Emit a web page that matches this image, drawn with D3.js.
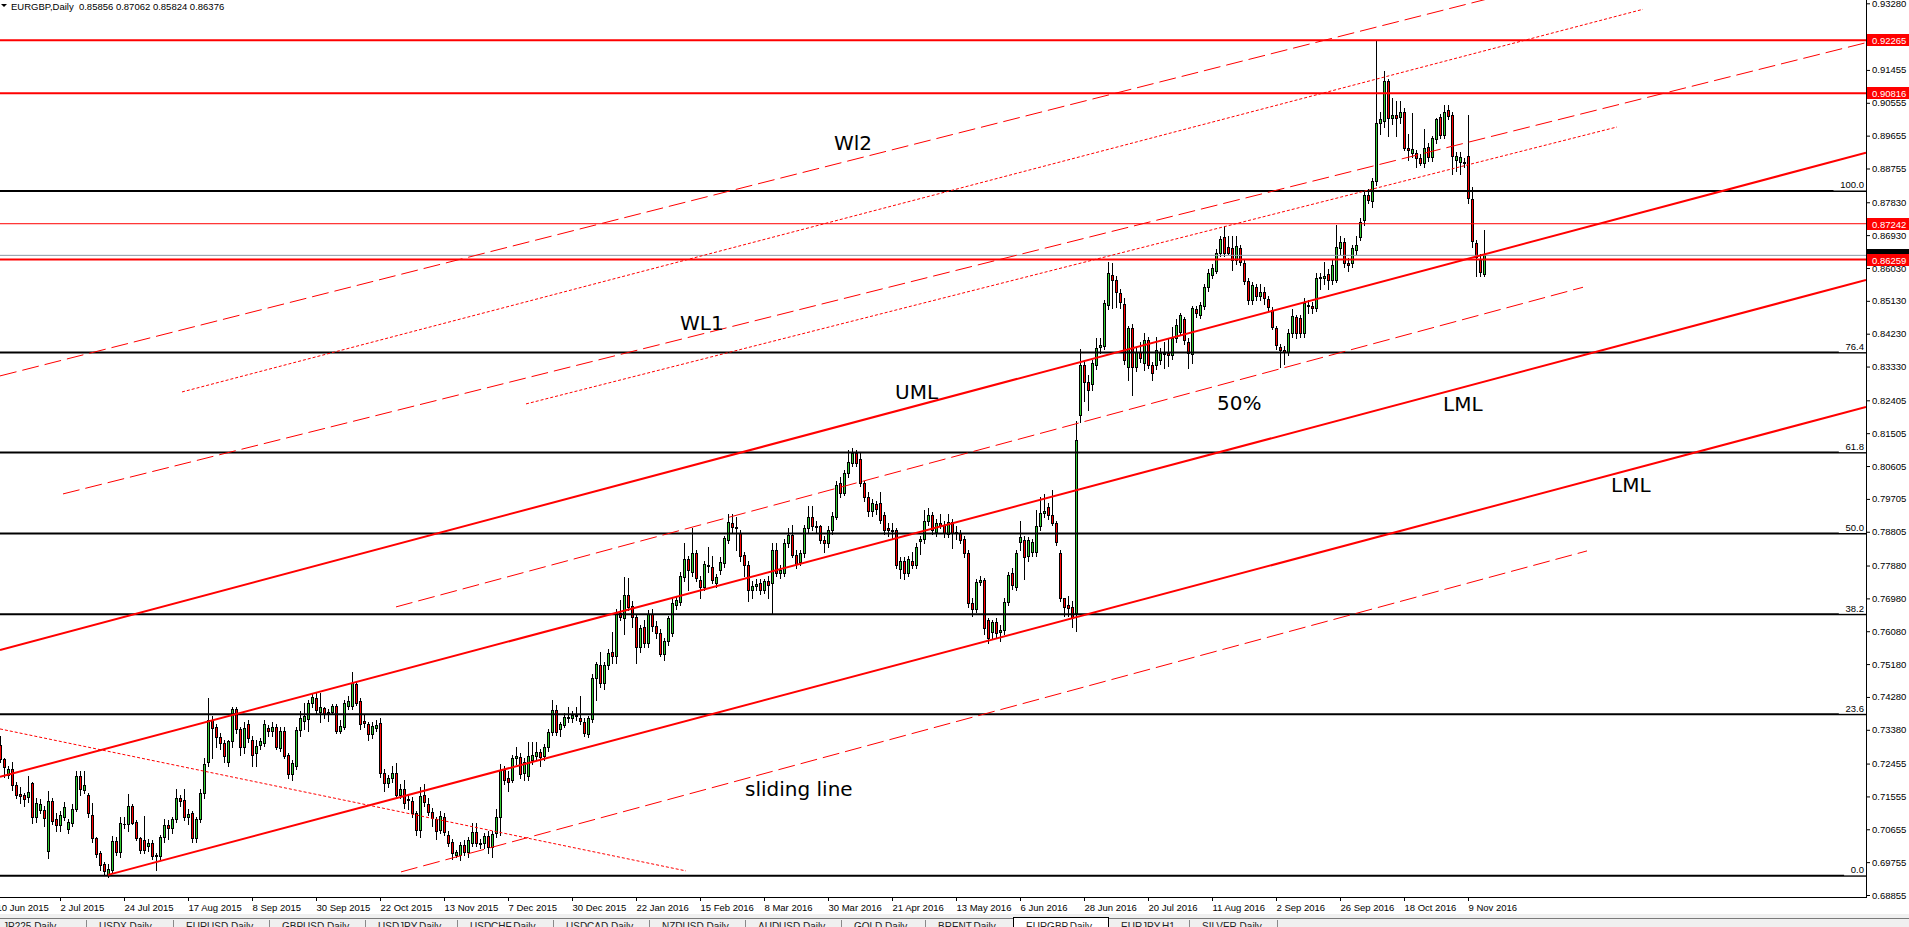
<!DOCTYPE html>
<html>
<head>
<meta charset="utf-8">
<script src="https://cdn.jsdelivr.net/npm/d3@7"></script>
<style>
  body { margin: 0; background: #fff; overflow: hidden; }
  svg { display: block; }
</style>
</head>
<body>
<svg id="chart" width="1909" height="927"></svg>
<script>
// right axis tick labels
const priceTicks = [0.93280, 0.92355, 0.91455, 0.90555, 0.89655, 0.88755, 0.87830, 0.86930, 0.86030,
  0.85130, 0.84230, 0.83330, 0.82405, 0.81505, 0.80605, 0.79705, 0.78805, 0.77880, 0.76980,
  0.76080, 0.75180, 0.74280, 0.73380, 0.72455, 0.71555, 0.70655, 0.69755, 0.68855];

// bottom axis labels, one every 16 bars
const dateLabels = ["10 Jun 2015", "2 Jul 2015", "24 Jul 2015", "17 Aug 2015", "8 Sep 2015", "30 Sep 2015",
  "22 Oct 2015", "13 Nov 2015", "7 Dec 2015", "30 Dec 2015", "22 Jan 2016", "15 Feb 2016", "8 Mar 2016",
  "30 Mar 2016", "21 Apr 2016", "13 May 2016", "6 Jun 2016", "28 Jun 2016", "20 Jul 2016", "11 Aug 2016",
  "2 Sep 2016", "26 Sep 2016", "18 Oct 2016", "9 Nov 2016"];

// daily candles: open, high, low, close (x10000), 11 Jun 2015 .. 15 Nov 2016
const candlePips = [
  [7297,7320,7250,7257],[7257,7262,7210,7237],[7214,7240,7205,7232],[7232,7250,7173,7187],[7187,7195,7150,7160],
  [7161,7180,7137,7157],[7160,7165,7128,7148],[7155,7212,7140,7167],[7192,7195,7082,7100],[7100,7150,7085,7138],
  [7117,7148,7110,7135],[7117,7130,7075,7096],[7007,7170,6988,7144],[7144,7150,7080,7089],[7094,7110,7060,7077],
  [7077,7115,7060,7105],[7100,7140,7090,7126],[7067,7095,7055,7085],[7084,7135,7075,7120],[7120,7226,7115,7211],
  [7211,7226,7160,7175],[7172,7226,7165,7186],[7160,7165,7100,7109],[7105,7137,7030,7041],[7041,7045,6990,6998],
  [7000,7005,6955,6968],[6970,6975,6940,6950],[6941,6970,6936,6956],[6954,7047,6945,7034],[7034,7045,6995,7002],
  [7002,7100,6990,7082],[7081,7100,7070,7079],[7079,7161,7060,7128],[7130,7135,7080,7084],[7085,7090,7035,7041],
  [7041,7045,7000,7009],[7036,7102,7000,7009],[7020,7040,7005,7027],[7027,7035,6985,6991],[6995,7000,6954,6991],
  [6991,7050,6985,7044],[7044,7095,7030,7077],[7077,7090,7040,7068],[7068,7100,7055,7093],[7093,7175,7085,7150],
  [7150,7160,7130,7144],[7146,7175,7090,7098],[7100,7120,7080,7108],[7109,7115,7032,7041],[7041,7100,7030,7093],
  [7093,7175,7085,7166],[7164,7260,7150,7244],[7251,7424,7240,7365],[7365,7375,7260,7342],[7345,7355,7290,7317],
  [7317,7330,7285,7301],[7303,7310,7250,7265],[7249,7310,7240,7306],[7306,7400,7290,7394],[7394,7400,7330,7339],
  [7339,7345,7270,7292],[7290,7360,7275,7342],[7354,7365,7305,7315],[7310,7320,7240,7269],[7275,7310,7240,7294],
  [7296,7315,7285,7306],[7301,7365,7295,7354],[7342,7350,7320,7336],[7336,7360,7320,7347],[7347,7355,7285,7290],
  [7287,7345,7280,7336],[7336,7345,7260,7266],[7269,7275,7205,7216],[7216,7255,7200,7246],[7240,7345,7230,7338],
  [7338,7390,7320,7370],[7363,7412,7340,7377],[7367,7420,7335,7411],[7411,7440,7400,7429],[7424,7438,7385,7392],
  [7388,7440,7360,7400],[7397,7400,7370,7381],[7388,7395,7362,7383],[7388,7410,7380,7402],[7404,7410,7330,7336],
  [7336,7365,7330,7348],[7347,7420,7340,7412],[7402,7430,7395,7417],[7402,7496,7395,7465],[7463,7470,7405,7412],
  [7417,7425,7340,7353],[7363,7380,7345,7356],[7354,7360,7310,7327],[7327,7360,7315,7348],[7343,7365,7335,7352],
  [7356,7370,7210,7219],[7219,7230,7170,7192],[7192,7215,7180,7205],[7205,7240,7195,7221],[7219,7248,7150,7160],
  [7160,7190,7150,7175],[7175,7201,7125,7137],[7148,7160,7120,7146],[7144,7155,7100,7109],[7109,7115,7050,7064],
  [7064,7180,7045,7157],[7160,7190,7130,7141],[7134,7150,7105,7114],[7114,7125,7075,7096],[7093,7100,7040,7061],
  [7064,7115,7055,7102],[7100,7110,7050,7059],[7050,7060,7020,7029],[7032,7040,6985,7000],[6995,7010,6990,7002],
  [6995,7030,6982,7023],[7023,7035,6995,7004],[7004,7045,6990,7036],[7029,7082,7020,7059],[7059,7082,7020,7027],
  [7029,7040,7015,7025],[7027,7055,7015,7046],[7048,7060,7000,7016],[7016,7060,6990,7053],[7055,7120,7045,7100],
  [7100,7245,7050,7228],[7228,7240,7190,7201],[7206,7225,7170,7196],[7201,7270,7195,7260],[7260,7290,7245,7266],
  [7263,7275,7205,7217],[7219,7260,7200,7251],[7212,7305,7200,7265],[7255,7305,7245,7269],[7265,7305,7255,7278],
  [7278,7285,7240,7263],[7265,7300,7255,7292],[7290,7340,7280,7333],[7333,7420,7325,7391],[7391,7405,7325,7333],
  [7340,7360,7320,7354],[7352,7385,7345,7374],[7374,7400,7360,7371],[7370,7390,7360,7379],[7379,7400,7365,7376],
  [7370,7430,7355,7363],[7360,7370,7320,7329],[7327,7375,7318,7370],[7367,7490,7360,7479],[7479,7525,7420,7518],
  [7516,7550,7455,7466],[7466,7525,7450,7516],[7516,7560,7505,7549],[7550,7605,7520,7539],[7539,7670,7520,7659],
  [7659,7694,7640,7648],[7645,7756,7600,7707],[7707,7755,7665,7675],[7676,7690,7620,7648],[7646,7655,7520,7564],
  [7564,7625,7550,7616],[7619,7640,7565,7575],[7575,7665,7565,7655],[7655,7670,7610,7621],[7621,7635,7590,7602],
  [7604,7615,7540,7546],[7546,7590,7530,7580],[7580,7650,7570,7643],[7603,7700,7595,7685],[7680,7705,7670,7694],
  [7687,7770,7680,7758],[7756,7850,7745,7805],[7805,7815,7720,7776],[7771,7890,7760,7822],[7822,7830,7745,7753],
  [7749,7760,7700,7728],[7728,7800,7720,7791],[7790,7840,7770,7786],[7785,7815,7740,7749],[7741,7765,7730,7756],
  [7776,7810,7765,7799],[7796,7870,7785,7863],[7858,7930,7850,7908],[7905,7930,7880,7893],[7893,7920,7830,7890],
  [7876,7885,7800,7814],[7817,7825,7760,7790],[7790,7800,7690,7721],[7721,7745,7700,7733],[7733,7750,7720,7737],
  [7740,7750,7710,7721],[7721,7750,7712,7746],[7745,7760,7700,7735],[7739,7850,7658,7830],[7830,7850,7760,7767],
  [7767,7790,7755,7775],[7767,7860,7760,7849],[7849,7890,7840,7872],[7872,7900,7810,7817],[7817,7830,7780,7793],
  [7799,7830,7790,7822],[7822,7900,7810,7890],[7890,7950,7880,7922],[7922,7950,7885,7895],[7897,7910,7880,7893],
  [7895,7900,7850,7858],[7858,7870,7825,7849],[7849,7895,7840,7884],[7884,7935,7875,7924],[7922,8020,7915,8009],
  [8013,8030,7975,7986],[7986,8050,7980,8041],[8041,8105,8030,8072],[8070,8110,8060,8095],[8095,8105,8060,8070],
  [8081,8095,8005,8013],[8013,8020,7965,7977],[7977,7990,7925,7936],[7936,7970,7925,7958],[7957,7965,7930,7942],
  [7959,7990,7905,7913],[7927,7935,7875,7885],[7890,7905,7870,7885],[7885,7905,7860,7882],[7884,7890,7780,7790],
  [7778,7810,7755,7800],[7800,7810,7750,7768],[7768,7815,7760,7805],[7800,7825,7780,7790],[7790,7850,7780,7840],
  [7855,7870,7820,7861],[7860,7940,7850,7911],[7911,7945,7900,7927],[7927,7935,7875,7885],[7881,7915,7870,7904],
  [7904,7930,7890,7897],[7900,7910,7865,7877],[7873,7930,7865,7908],[7908,7915,7835,7876],[7877,7895,7860,7880],
  [7876,7885,7850,7858],[7862,7870,7810,7821],[7821,7830,7675,7685],[7685,7700,7650,7668],[7668,7750,7660,7744],
  [7744,7760,7735,7749],[7749,7755,7600,7616],[7639,7645,7575,7589],[7607,7640,7590,7632],[7634,7645,7590,7602],
  [7605,7625,7580,7612],[7612,7700,7600,7689],[7689,7770,7680,7762],[7767,7780,7725,7735],[7730,7830,7720,7823],
  [7853,7910,7830,7867],[7858,7870,7750,7812],[7814,7865,7800,7858],[7826,7860,7815,7853],[7826,7940,7815,7895],
  [7895,7975,7885,7931],[7931,7985,7920,7938],[7949,7960,7915,7927],[7927,7995,7900,7904],[7904,7910,7845,7853],
  [7822,7830,7690,7698],[7698,7700,7650,7675],[7680,7705,7650,7672],[7675,7690,7620,7648],[7657,8183,7610,8132],
  [8200,8380,8180,8338],[8337,8350,8240,8292],[8292,8310,8215,8269],[8285,8350,8270,8342],[8337,8410,8325,8383],
  [8387,8410,8370,8392],[8390,8515,8380,8506],[8502,8620,8490,8588],[8584,8616,8493,8570],[8570,8580,8497,8538],
  [8535,8545,8493,8511],[8504,8520,8340,8351],[8333,8445,8296,8438],[8438,8450,8255,8333],[8333,8385,8320,8374],
  [8374,8400,8345,8356],[8342,8424,8324,8406],[8406,8415,8330,8337],[8337,8345,8296,8314],[8337,8415,8325,8378],
  [8351,8385,8340,8369],[8367,8400,8330,8370],[8371,8410,8335,8365],[8365,8440,8355,8410],[8410,8462,8400,8447],
  [8429,8480,8420,8474],[8462,8470,8395,8406],[8401,8410,8330,8369],[8367,8500,8342,8493],[8490,8500,8470,8481],
  [8474,8510,8465,8502],[8499,8560,8490,8550],[8550,8600,8540,8588],[8584,8615,8575,8602],[8596,8655,8590,8645],
  [8645,8690,8635,8682],[8687,8718,8635,8645],[8660,8690,8640,8645],[8657,8690,8598,8625],[8625,8690,8615,8662],
  [8657,8665,8610,8620],[8616,8625,8560,8568],[8568,8575,8505,8515],[8514,8565,8505,8557],[8552,8560,8515,8525],
  [8525,8560,8515,8538],[8538,8550,8505,8520],[8517,8525,8485,8495],[8488,8495,8435,8442],[8438,8445,8380,8392],
  [8386,8395,8333,8379],[8379,8390,8340,8374],[8374,8435,8365,8424],[8424,8490,8415,8472],[8468,8475,8410,8424],
  [8465,8475,8415,8424],[8424,8520,8415,8506],[8502,8515,8480,8498],[8499,8510,8480,8493],[8493,8590,8485,8575],
  [8575,8590,8545,8579],[8575,8620,8560,8581],[8586,8600,8545,8570],[8570,8625,8560,8611],[8570,8720,8565,8660],
  [8657,8690,8640,8674],[8674,8685,8605,8616],[8616,8630,8595,8611],[8616,8665,8605,8657],[8652,8690,8640,8666],
  [8689,8740,8680,8730],[8734,8810,8720,8803],[8803,8820,8780,8789],[8787,8850,8770,8840],[8840,9228,8830,9000],
  [9001,9030,8970,9010],[9006,9143,8990,9116],[9116,9122,8965,9013],[9013,9068,8998,9022],[9022,9060,8965,9013],
  [9017,9060,9000,9031],[9031,9040,8925,8931],[8931,8970,8900,8926],[8919,9027,8908,8928],[8917,8925,8880,8903],
  [8903,8915,8885,8890],[8890,8985,8880,8931],[8935,8945,8895,8906],[8906,8965,8895,8958],[8956,9015,8945,9010],
  [9016,9025,8960,8967],[8967,9050,8960,9031],[9036,9050,9010,9019],[9022,9030,8860,8910],[8899,8920,8870,8910],
  [8892,8920,8860,8908],[8893,8905,8880,8891],[8910,9023,8780,8794],[8791,8825,8660,8678],[8671,8680,8580,8634],
  [8625,8640,8580,8593],[8586,8706,8582,8638]
];

// fibonacci retracement
const fibLevels = [0, 23.6, 38.2, 50, 61.8, 76.4, 100];
const fibLow = 0.69379, fibHigh = 0.88139;

// horizontal price lines
const redLevels = [0.92265, 0.90816, 0.86259];
const thinRedLevels = [0.87242];
const bidPrice = 0.86376;

// trend lines: [bar0, price0, bar1, price1]
const forkLines = [[0, 0.75568, 466.5, 0.89188], [0, 0.72090, 466.5, 0.85702], [27, 0.69406, 466.5, 0.82223]];
const dashLines = [[0, 0.83073, 380, 0.93625], [15.75, 0.79841, 466.5, 0.92201],
  [99, 0.76746, 395.75, 0.85502], [100.25, 0.69488, 396.75, 0.78280]];
const dotLines = [[45.5, 0.82634, 410.75, 0.93116], [131.5, 0.82306, 404.25, 0.89892], [0, 0.73404, 171.5, 0.69515]];

// text objects: [text, bar, price]
const notes = [["Wl2", 208.5, 0.89262], ["WL1", 170, 0.84332], ["UML", 223.75, 0.82443], ["50%", 304.25, 0.82141],
  ["LML", 360.75, 0.82114], ["LML", 402.75, 0.79895], ["sliding line", 186.25, 0.71570]];

const tabNames = ["JP225,Daily", "USDX,Daily", "EURUSD,Daily", "GBPUSD,Daily", "USDJPY,Daily", "USDCHF,Daily",
  "USDCAD,Daily", "NZDUSD,Daily", "AUDUSD,Daily", "GOLD,Daily", "BRENT,Daily", "EURGBP,Daily", "EURJPY,H1", "SILVER,Daily"];
const tabEdges = [-10, 86, 173, 269, 365, 457, 553, 649, 745, 841, 925, 1013, 1108, 1189, 1277];

const W = 1909, H = 927, plotR = 1866, plotB = 897;
const font = "'Liberation Sans', Arial, sans-serif";

const svg = d3.select("#chart");
const x = d3.scaleLinear().domain([0, 466.5]).range([0, plotR]);
const y = d3.scaleLinear().domain([0.68855, 0.93280]).range([895, 3.3]);

const bars = candlePips.map((r, i) => ({ i: i, o: r[0] / 1e4, h: r[1] / 1e4, l: r[2] / 1e4, c: r[3] / 1e4 }));

svg.append("defs").append("clipPath").attr("id", "plot")
  .append("rect").attr("x", 0).attr("y", 0).attr("width", plotR).attr("height", plotB);

const plot = svg.append("g").attr("clip-path", "url(#plot)");

// candles
const cg = plot.append("g").attr("shape-rendering", "crispEdges");
bars.forEach(b => {
  const xc = Math.round(x(b.i));
  const top = Math.round(y(Math.max(b.o, b.c)));
  const bot = Math.round(y(Math.min(b.o, b.c)));
  cg.append("line")
    .attr("x1", xc + 0.5).attr("x2", xc + 0.5)
    .attr("y1", Math.round(y(b.h))).attr("y2", Math.round(y(b.l)) + 1)
    .attr("stroke", "#000").attr("stroke-width", 1);
  cg.append("rect")
    .attr("x", xc - 1).attr("y", top).attr("width", 3).attr("height", Math.max(1, bot - top + 1))
    .attr("fill", "#000");
  if (bot - top > 1) {
    cg.append("rect")
      .attr("x", xc).attr("y", top + 1).attr("width", 1).attr("height", bot - top - 1)
      .attr("fill", b.c >= b.o ? "#32cd32" : "#ff0000");
  }
});

// fibonacci levels
const fibPrice = lv => fibLow + (fibHigh - fibLow) * lv / 100;
plot.selectAll(".fib").data(fibLevels).join("line")
  .attr("x1", 0).attr("x2", plotR)
  .attr("y1", d => y(fibPrice(d))).attr("y2", d => y(fibPrice(d)))
  .attr("stroke", "#000").attr("stroke-width", 2);

// horizontal levels
plot.selectAll(".bid").data([bidPrice]).join("line")
  .attr("x1", 0).attr("x2", plotR).attr("y1", d => y(d)).attr("y2", d => y(d))
  .attr("stroke", "#8c99a6").attr("stroke-width", 1);
plot.selectAll(".thin").data(thinRedLevels).join("line")
  .attr("x1", 0).attr("x2", plotR).attr("y1", d => y(d)).attr("y2", d => y(d))
  .attr("stroke", "#ff0000").attr("stroke-width", 1);
plot.selectAll(".thick").data(redLevels).join("line")
  .attr("x1", 0).attr("x2", plotR).attr("y1", d => y(d)).attr("y2", d => y(d))
  .attr("stroke", "#ff0000").attr("stroke-width", 2);

// pitchfork / channel lines
function drawTrend(data, width, dash) {
  plot.append("g").selectAll("line").data(data).join("line")
    .attr("x1", d => x(d[0])).attr("y1", d => y(d[1]))
    .attr("x2", d => x(d[2])).attr("y2", d => y(d[3]))
    .attr("stroke", "#ff0000").attr("stroke-width", width)
    .attr("stroke-dasharray", dash);
}
drawTrend(dashLines, 1, "17,6");
drawTrend(dotLines, 1, "3,2");
drawTrend(forkLines, 2, null);

// fib level captions
const fibText = svg.append("g");
fibLevels.forEach(lv => {
  const yy = y(fibPrice(lv));
  const label = lv.toFixed(1);
  fibText.append("rect").attr("x", plotR - 6 - label.length * 5.3).attr("y", yy - 12)
    .attr("width", label.length * 5.3 + 6).attr("height", 11.5).attr("fill", "#fff");
  fibText.append("text").attr("x", plotR - 2).attr("y", yy - 2.5)
    .attr("text-anchor", "end").attr("font-family", font).attr("font-size", "9.5px")
    .attr("fill", "#000").text(label);
});

// annotations
svg.append("g").selectAll("text").data(notes).join("text")
  .attr("x", d => x(d[1])).attr("y", d => y(d[2]))
  .attr("font-family", "'DejaVu Sans', Verdana, sans-serif").attr("font-size", "20px")
  .attr("fill", "#000").text(d => d[0]);

// frame
svg.append("line").attr("x1", plotR + 0.5).attr("x2", plotR + 0.5).attr("y1", 0).attr("y2", plotB + 1)
  .attr("stroke", "#000");
svg.append("line").attr("x1", 0).attr("x2", plotR + 1).attr("y1", plotB + 0.5).attr("y2", plotB + 0.5)
  .attr("stroke", "#000");

// price axis
const yAxis = svg.append("g").attr("transform", `translate(${plotR},0)`)
  .call(d3.axisRight(y).tickValues(priceTicks).tickFormat(d3.format(".5f")).tickSize(4).tickSizeOuter(0).tickPadding(2));
yAxis.select(".domain").remove();
yAxis.selectAll("text").attr("font-family", font).attr("font-size", "9.5px").attr("fill", "#000");
yAxis.selectAll("line").attr("stroke", "#000");

// time axis
const dateBars = dateLabels.map((d, k) => -1 + 16 * k);
const xAxis = svg.append("g").attr("transform", `translate(0,${plotB})`)
  .call(d3.axisBottom(x).tickValues(dateBars).tickFormat((d, k) => dateLabels[k]).tickSize(4).tickSizeOuter(0).tickPadding(3));
xAxis.select(".domain").remove();
xAxis.selectAll("text").attr("text-anchor", "start").attr("x", 0)
  .attr("font-family", font).attr("font-size", "9.5px").attr("fill", "#000");
xAxis.selectAll("line").attr("stroke", "#000");

// price labels on the axis (bid box sits under the 0.86259 box, only its edge shows)
function priceBox(p, color, withText) {
  const yy = Math.round(y(p));
  svg.append("rect").attr("x", plotR + 1).attr("y", yy - 6).attr("width", W - plotR).attr("height", 12).attr("fill", color);
  if (withText) {
    svg.append("text").attr("x", plotR + 6).attr("y", yy + 3.5)
      .attr("font-family", font).attr("font-size", "9.5px").attr("fill", "#fff").text(d3.format(".5f")(p));
  }
}
priceBox(bidPrice, "#000", false);
redLevels.concat(thinRedLevels).forEach(p => priceBox(p, "#ff0000", true));

// title
svg.append("path").attr("d", "M1,4 L7,4 L4,7 Z").attr("fill", "#000");
svg.append("text").attr("x", 11).attr("y", 9.5).attr("font-family", font).attr("font-size", "9.5px")
  .attr("fill", "#000").attr("xml:space", "preserve")
  .text("EURGBP,Daily  0.85856 0.87062 0.85824 0.86376");

// tab strip
const tabs = svg.append("g");
tabs.append("rect").attr("x", 0).attr("y", 914).attr("width", W).attr("height", 13).attr("fill", "#f0f0f0");
tabs.append("line").attr("x1", 0).attr("x2", W).attr("y1", 918.5).attr("y2", 918.5).attr("stroke", "#7a7a7a");
tabNames.forEach((t, k) => {
  const x0 = tabEdges[k], x1 = tabEdges[k + 1];
  if (t === "EURGBP,Daily") {
    tabs.append("rect").attr("x", x0 + 0.5).attr("y", 917.5).attr("width", x1 - x0).attr("height", 12)
      .attr("fill", "#fff").attr("stroke", "#000");
  } else {
    tabs.append("line").attr("x1", x1 + 0.5).attr("x2", x1 + 0.5).attr("y1", 920).attr("y2", 927).attr("stroke", "#8a8a8a");
  }
  tabs.append("text").attr("x", x0 + 13).attr("y", 930).attr("font-family", font).attr("font-size", "10px")
    .attr("fill", "#222").text(t);
});
</script>
</body>
</html>
